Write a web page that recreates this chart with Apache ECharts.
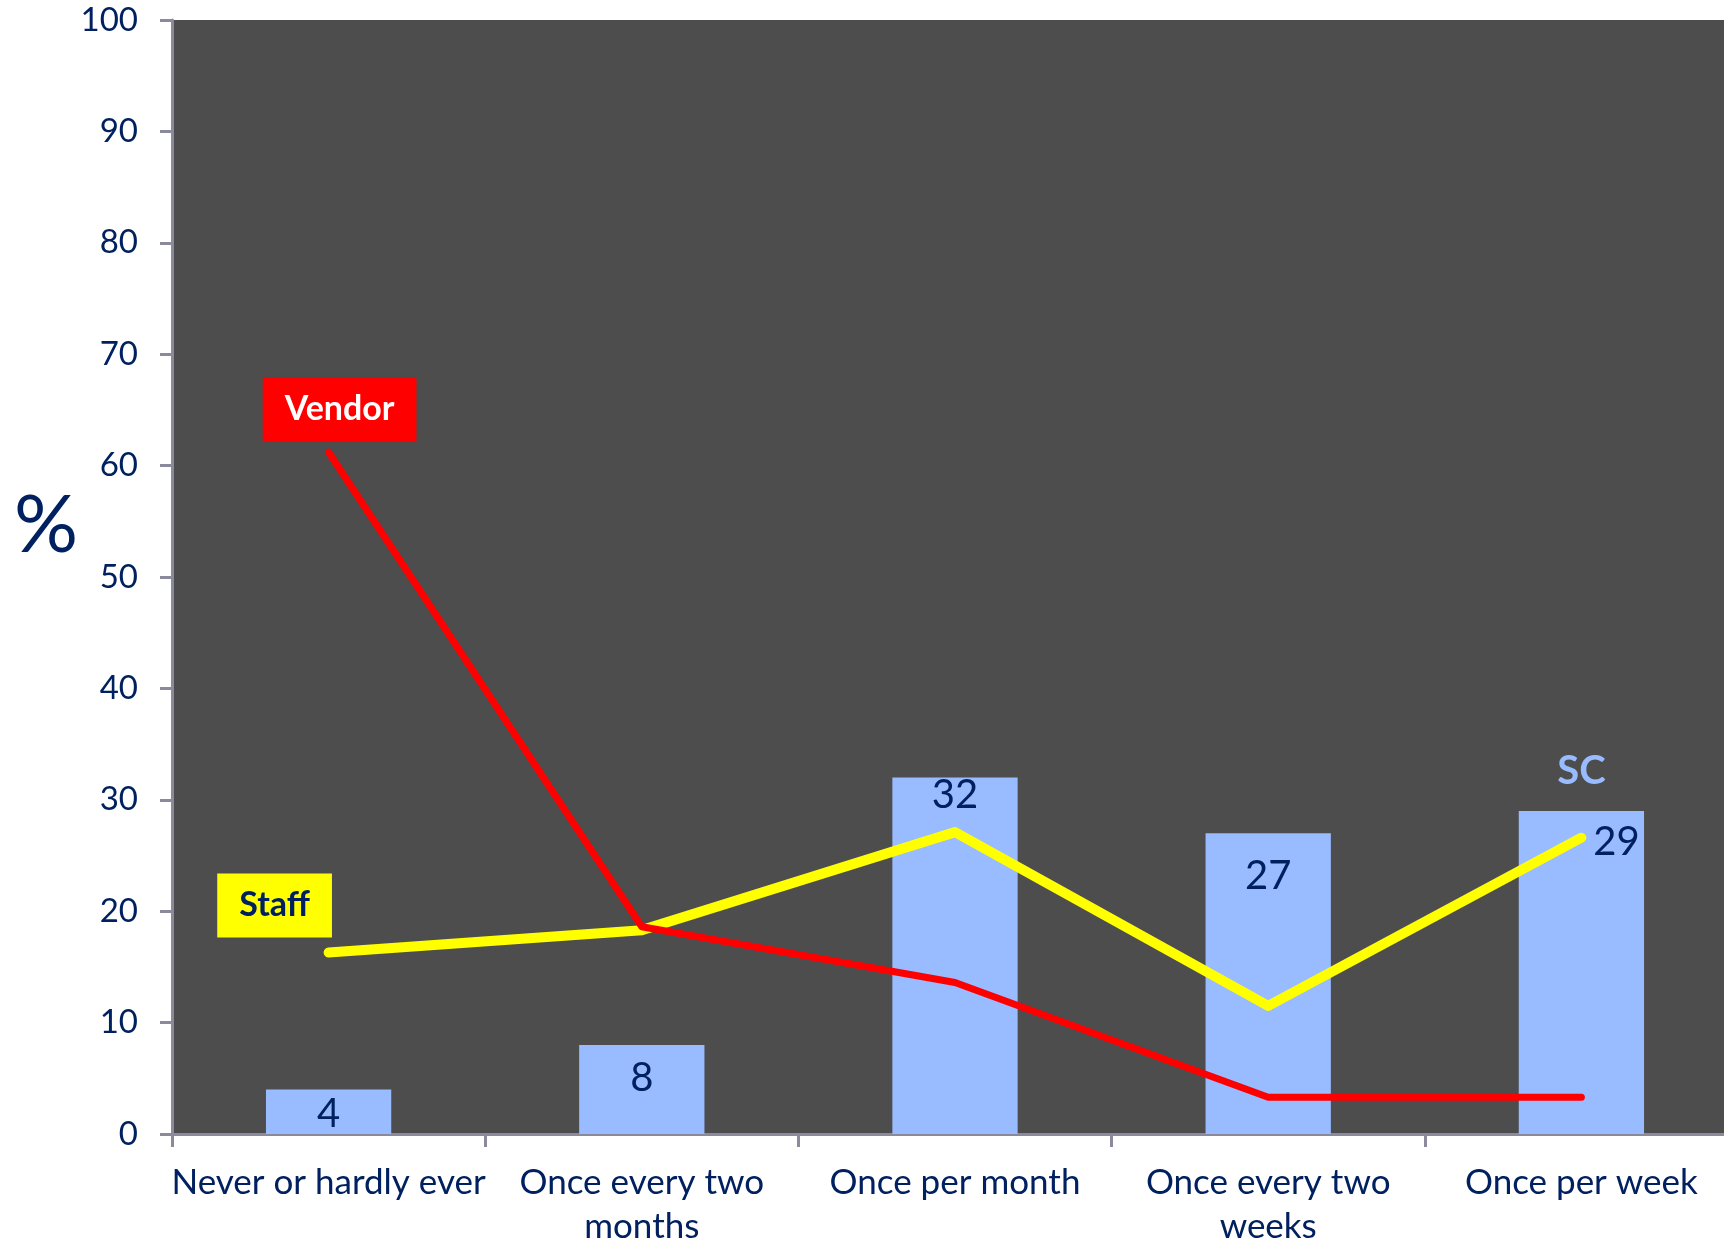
<!DOCTYPE html>
<html>
<head>
<meta charset="utf-8">
<title>Frequency by group</title>
<script src="https://cdn.jsdelivr.net/npm/echarts@6/dist/echarts.min.js"></script>
<style>
  html, body { margin: 0; padding: 0; background: #ffffff; }
  #chart { width: 1724px; height: 1242px; }
</style>
</head>
<body>
<div id="chart"></div>
<script>
// Response categories (x axis)
const categories = [
  'Never or hardly ever',
  'Once every two\nmonths',
  'Once per month',
  'Once every two\nweeks',
  'Once per week'
];

// Percentages per group
const scValues = [4, 8, 32, 27, 29];
const vendorValues = [61.2, 18.6, 13.6, 3.3, 3.3];
const staffValues = [16.3, 18.3, 27.1, 11.5, 26.6];

// Series names shown as tags on the chart
const seriesNames = { sc: 'SC', vendor: 'Vendor', staff: 'Staff' };

const NAVY = '#002060';
const FONT = 'Lato, "Open Sans", sans-serif';

// Where each bar's value label sits inside its bar: [x, y] from bar's top-left
const barLabelPos = [
  ['50%', 25], ['50%', 33], ['50%', 18], ['50%', 43], ['78%', 31]
];

const chart = echarts.init(document.getElementById('chart'), null, { renderer: 'canvas' });

// Tag label drawn above the first point of a line series
function tag(text, bg, fg, distance, dx) {
  return {
    show: true,
    formatter: text,
    position: 'top',
    distance: distance,
    offset: [dx, 0],
    backgroundColor: bg,
    color: fg,
    fontSize: 34,
    fontWeight: 'bold',
    fontFamily: FONT,
    lineHeight: 40,
    padding: [12, 22, 12, 22]
  };
}

const option = {
  backgroundColor: '#ffffff',
  animation: false,
  textStyle: { fontFamily: FONT },
  grid: {
    left: 172, right: -14, top: 20, bottom: 108,
    outerBoundsMode: 'none',
    containLabel: false,
    show: true, backgroundColor: '#4d4d4d', borderWidth: 0
  },
  graphic: [{
    type: 'text',
    left: 14, top: 486,
    style: { text: '%', font: '80px ' + FONT, fill: NAVY }
  }],
  xAxis: {
    type: 'category',
    data: categories,
    boundaryGap: true,
    axisLine: { show: true, lineStyle: { color: '#8a8a9c', width: 3 } },
    axisTick: { show: true, length: 13, lineStyle: { color: '#8a8a9c', width: 3 } },
    axisLabel: {
      color: NAVY, fontSize: 35, fontFamily: FONT, margin: 27, lineHeight: 44,
      interval: 0
    },
    splitLine: { show: false }
  },
  yAxis: {
    type: 'value',
    min: 0, max: 100, interval: 10,
    axisLine: { show: true, lineStyle: { color: '#8a8a9c', width: 3 } },
    axisTick: { show: true, length: 12, lineStyle: { color: '#8a8a9c', width: 3 } },
    axisLabel: { color: NAVY, fontSize: 33, fontFamily: FONT, margin: 34 },
    splitLine: { show: false }
  },
  series: [
    {
      name: seriesNames.sc,
      type: 'bar',
      barWidth: '40%',
      itemStyle: { color: '#99bbff' },
      data: scValues.map((v, i) => ({
        value: v,
        label: {
          show: true,
          position: barLabelPos[i],
          align: 'center',
          verticalAlign: 'middle',
          color: NAVY,
          fontSize: 40,
          fontFamily: FONT
        }
      })),
      markPoint: {
        symbol: 'rect',
        symbolSize: 0,
        silent: true,
        data: [{ coord: [4, scValues[4]] }],
        label: {
          show: true,
          formatter: seriesNames.sc,
          position: 'inside',
          offset: [0, -40],
          color: '#99bbff',
          fontSize: 40,
          fontWeight: 'bold',
          fontFamily: FONT
        }
      },
      z: 2
    },
    {
      name: seriesNames.vendor,
      type: 'line',
      showSymbol: true,
      symbol: 'circle',
      symbolSize: 0.01,
      itemStyle: { color: '#ff0000' },
      label: { show: false },
      lineStyle: { color: '#ff0000', width: 7, cap: 'round', join: 'round' },
      data: vendorValues.map((v, i) => i === 0
        ? { value: v, label: tag(seriesNames.vendor, '#ff0000', '#ffffff', 11, 11) }
        : v),
      z: 4
    },
    {
      name: seriesNames.staff,
      type: 'line',
      showSymbol: true,
      symbol: 'circle',
      symbolSize: 0.01,
      itemStyle: { color: '#ffff00' },
      label: { show: false },
      lineStyle: { color: '#ffff00', width: 10, cap: 'round', join: 'round' },
      data: staffValues.map((v, i) => i === 0
        ? { value: v, label: tag(seriesNames.staff, '#ffff00', NAVY, 15, -54) }
        : v),
      z: 3
    }
  ]
};

chart.setOption(option);
</script>
</body>
</html>
